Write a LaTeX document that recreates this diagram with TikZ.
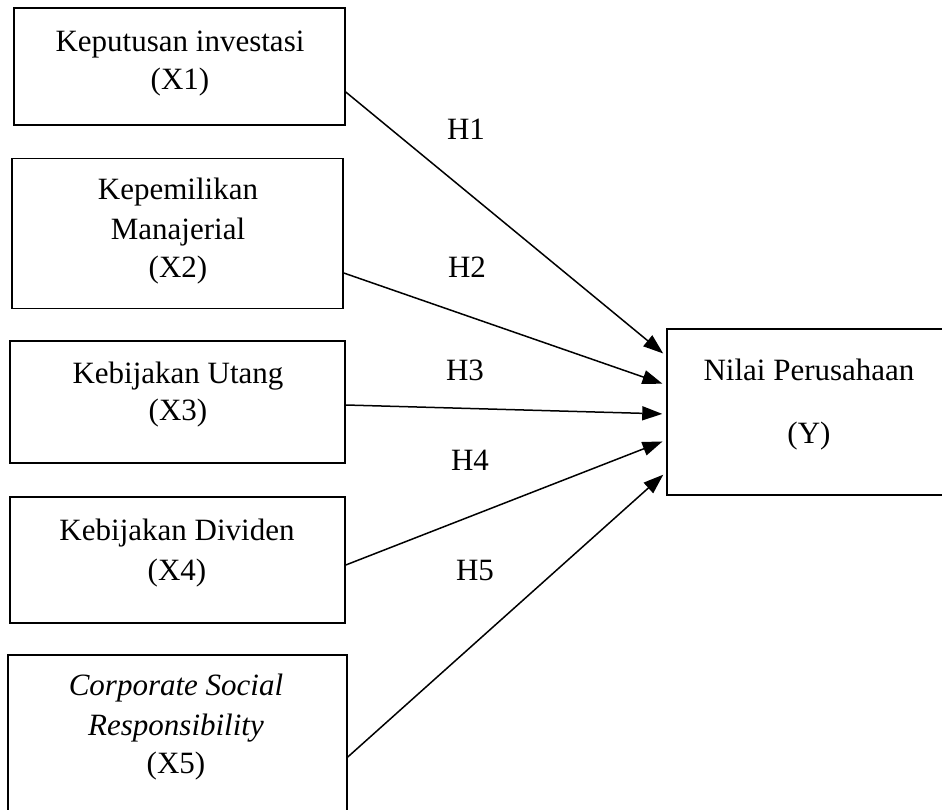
\documentclass[tikz,border=0pt]{standalone}
\usepackage{fontspec}
\setmainfont{Liberation Serif}
\usetikzlibrary{arrows.meta}
\begin{document}
\begin{tikzpicture}[x=1pt,y=-1pt,
  box/.style={draw, line width=1.5pt, inner sep=0pt},
  txt/.style={anchor=base, inner sep=0pt, font=\fontsize{31}{38}\selectfont},
  arr/.style={-{Triangle[length=20pt,width=14pt]}, line width=1.5pt, shorten >=4pt}
]
\useasboundingbox (0,0) rectangle (942,810);
\clip (0,0) rectangle (942,810);
% boxes
\node[box, minimum width=331pt, minimum height=117pt] (B1) at (179.5,66.5) {};
\node[box, minimum width=331pt, minimum height=150pt] (B2) at (177.5,233.5) {};
\node[box, minimum width=335pt, minimum height=122pt] (B3) at (177.5,402) {};
\node[box, minimum width=335pt, minimum height=126pt] (B4) at (177.5,560) {};
\node[box, minimum width=339pt, minimum height=185pt] (B5) at (177.5,747.5) {};
\node[box, minimum width=293pt, minimum height=166pt] (BY) at (813.5,412) {};
% texts
\node[txt] (t1a) at (180,52) {Keputusan investasi};
\node[txt] (t1b) at (180,90) {(X1)};
\node[txt] (t2a) at (178,200) {Kepemilikan};
\node[txt] (t2b) at (178,240) {Manajerial};
\node[txt] (t2c) at (178,278) {(X2)};
\node[txt] (t3a) at (178,383) {Kebijakan Utang};
\node[txt] (t3b) at (178,420) {(X3)};
\node[txt] (t4a) at (177,540) {Kebijakan Dividen};
\node[txt] (t4b) at (177,580) {(X4)};
\node[txt] (t5a) at (176,695) {\itshape Corporate Social};
\node[txt] (t5b) at (176,735) {\itshape Responsibility};
\node[txt] (t5c) at (176,773) {(X5)};
\node[txt] (tya) at (809,380) {Nilai Perusahaan};
\node[txt] (tyb) at (809,443) {(Y)};
% hypothesis labels
\node[txt] (h1) at (466,140) {H1};
\node[txt] (h2) at (467,278) {H2};
\node[txt] (h3) at (465,380) {H3};
\node[txt] (h4) at (470,470) {H4};
\node[txt] (h5) at (475,580) {H5};
% arrows
\draw[arr] ([yshift=-25.5pt]B1.east) -- ([yshift=56pt]BY.west);
\draw[arr] ([yshift=-39.5pt]B2.east) -- ([yshift=27pt]BY.west);
\draw[arr] ([yshift=-3pt]B3.east) -- ([yshift=-2pt]BY.west);
\draw[arr] ([yshift=-5pt]B4.east) -- ([yshift=-28pt]BY.west);
\draw[arr] ([yshift=-9.5pt]B5.east) -- ([yshift=-60pt]BY.west);
\end{tikzpicture}
\end{document}
